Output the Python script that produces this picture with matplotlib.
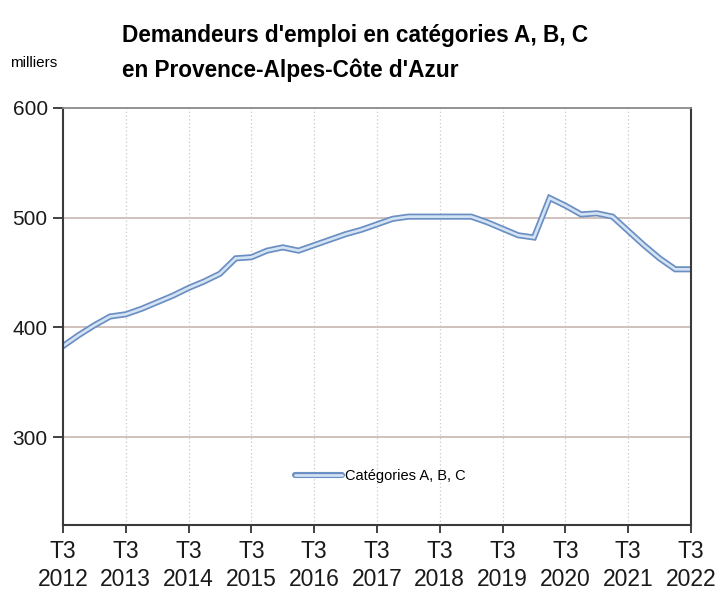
import matplotlib
matplotlib.use("Agg")
import matplotlib.pyplot as plt
from matplotlib.lines import Line2D
import matplotlib.patheffects as pe

plt.rcParams['font.family'] = ['Liberation Sans', 'DejaVu Sans']

# quarterly series, T3 2012 .. T3 2022 (thousands)
values = [383, 393, 402, 410, 412, 417, 423, 429, 436, 442,
          449, 463, 464, 470, 473, 470, 475, 480, 485, 489,
          494, 499, 501, 501, 501, 501, 501, 496, 490, 484,
          482, 518, 511, 503, 504, 501, 488, 475, 463, 453, 453]
years = list(range(2012, 2023))
tick_labels = ["T3\n%d" % y for y in years]
series_label = "Catégories A, B, C"

OUTER = '#6b8fc2'
INNER = '#d4e4f4'

x = list(range(len(values)))

fig = plt.figure(figsize=(7.15, 5.98), dpi=100)
ax = fig.add_axes([0.0881, 0.1221, 0.8783, 0.6973])

# double line look: dark outline + light core
ax.plot(x, values, color=OUTER, linewidth=4.4, solid_joinstyle='miter')
ax.plot(x, values, color=INNER, linewidth=1.9, solid_joinstyle='miter')

ax.set_xlim(0, 40)
ax.set_ylim(220, 600)
ax.set_yticks([300, 400, 500, 600])
ax.set_xticks(range(0, 41, 4))
ax.set_xticklabels(tick_labels, linespacing=1.25)
ax.tick_params(axis='y', labelsize=15, direction='out', length=7,
               width=1.3, color='#333333', pad=4, labelcolor='#1a1a1a')
ax.tick_params(axis='x', labelsize=16.5, direction='out', length=6,
               width=1.3, color='#333333', pad=5, labelcolor='#1a1a1a')

for v in [300, 400, 500]:
    ax.axhline(v, color='#cdbcb6', linewidth=1.3, zorder=0)
for t in range(4, 40, 4):
    ax.axvline(t, color='#c9c9c9', linewidth=0.9, linestyle=(0, (1, 2)), zorder=0)

for side in ['left', 'bottom', 'right']:
    ax.spines[side].set_color('#3a3a3a')
    ax.spines[side].set_linewidth(1.5)
ax.spines['top'].set_color('#8a8a8a')
ax.spines['top'].set_linewidth(1.3)

# legend proxy
h = Line2D([0], [0], color=INNER, linewidth=1.9, solid_capstyle='round',
           path_effects=[pe.Stroke(linewidth=4.4, foreground=OUTER, capstyle='round'), pe.Normal()])
ax.legend([h], [series_label], loc='center', bbox_to_anchor=(0.505, 0.117),
          frameon=False, fontsize=10.5, handlelength=3.2, handletextpad=0.2)

fig.text(0.171, 0.93, "Demandeurs d'emploi en catégories A, B, C",
         fontsize=16.3, fontweight='bold', ha='left', va='baseline')
fig.text(0.171, 0.871, "en Provence-Alpes-Côte d'Azur",
         fontsize=16.3, fontweight='bold', ha='left', va='baseline')
fig.text(0.014, 0.8885, "milliers", fontsize=11, ha='left', va='baseline')

fig.savefig("out.png", dpi=100)
